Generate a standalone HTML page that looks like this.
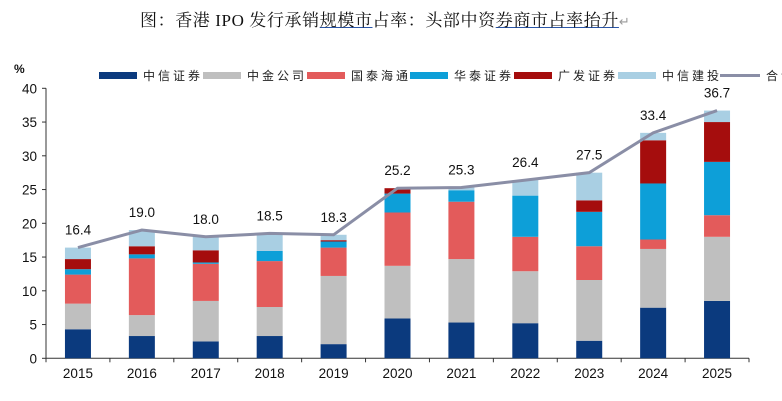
<!DOCTYPE html>
<html><head><meta charset="utf-8"><style>
body{margin:0;background:#fff;width:782px;height:401px;overflow:hidden;position:relative;font-family:"Liberation Sans","Noto Sans CJK SC",sans-serif}
#title{position:absolute;left:140px;top:6px;font-family:"Liberation Serif","Noto Serif CJK SC",serif;font-size:17px;color:#111;white-space:nowrap;letter-spacing:0.6px}
#title u{text-decoration-color:#2a56a8}
</style></head><body>
<div id="title">图：香港 IPO 发行承销<u>规模市</u>占率：头部中资<u>券商市占率抬升</u><span style="color:#999;font-size:13px">↵</span></div>
<svg id="chart" width="782" height="401" style="position:absolute;left:0;top:0"></svg>
<script>
const years=["2015","2016","2017","2018","2019","2020","2021","2022","2023","2024","2025"];
const seriesNames=["中信证券","中金公司","国泰海通","华泰证券","广发证券","中信建投"];
const citic=[4.3,3.3,2.5,3.3,2.1,5.9,5.3,5.2,2.6,7.5,8.5];
const cicc=[3.8,3.1,6.0,4.3,10.1,7.8,9.4,7.7,9.0,8.7,9.5];
const gtht=[4.3,8.4,5.5,6.8,4.2,7.9,8.5,5.1,5.0,1.4,3.2];
const htsc=[0.8,0.6,0.2,1.5,0.9,2.8,1.7,6.1,5.1,8.3,7.9];
const gf=[1.5,1.2,1.8,0,0.2,0.8,0,0,1.7,6.4,5.9];
const csc=[1.7,2.4,2.0,2.6,0.8,0,0.4,2.3,4.1,1.1,1.7];
const total=[16.4,19.0,18.0,18.5,18.3,25.2,25.3,26.4,27.5,33.4,36.7];
const yTicks=[0,5,10,15,20,25,30,35,40];
const colors=["#0b3a7e","#bfbfbf","#e35b5b","#0d9fd8","#a50d0d","#a9cfe3"];
const NS="http://www.w3.org/2000/svg";
const svg=document.getElementById('chart');
const x0=46,x1=749,yBase=358.3,yTop=88.3;
const yS=v=>yBase-(v/40)*(yBase-yTop);
const band=(x1-x0)/years.length;
const xC=i=>x0+band*(i+0.5);
function mk(t,a){const e=document.createElementNS(NS,t);for(const k in a)e.setAttribute(k,a[k]);svg.appendChild(e);return e;}
// axes
let ax=mk('line',{x1:x0,y1:yTop,x2:x0,y2:yBase,stroke:'#333','stroke-width':1});


let bx=mk('line',{x1:x0,y1:yBase,x2:x1,y2:yBase,stroke:'#333','stroke-width':1});


yTicks.forEach(v=>{
 const y=yS(v);
 mk('line',{x1:x0-4,y1:y,x2:x0,y2:y,stroke:'#333'});
 const t=mk('text',{x:37,y:y+5,'text-anchor':'end','font-size':13.5,fill:'#111'});t.textContent=v;
 
 
});
const u=mk('text',{x:14,y:73,'font-size':12,fill:'#111','font-weight':'bold'});u.textContent='%';


for(let i=0;i<=years.length;i++){mk('line',{x1:x0+band*i,y1:yBase,x2:x0+band*i,y2:yBase+4,stroke:'#333'});}
const data=[citic,cicc,gtht,htsc,gf,csc];
years.forEach((yr,i)=>{
 let acc=0;
 data.forEach((s,k)=>{
  const v=s[i]; if(v<=0)return;
  const r=mk('rect',{x:xC(i)-13,y:yS(acc+v),width:26,height:yS(acc)-yS(acc+v),fill:colors[k]});
  
  
  acc+=v;
 });
 const t=mk('text',{x:xC(i),y:378,'text-anchor':'middle','font-size':13.5,fill:'#111'});t.textContent=yr;
 
 
});
let pts=total.map((v,i)=>xC(i)+','+yS(v)).join(' ');
const pl=mk('polyline',{points:pts,fill:'none',stroke:'#8a8ea6','stroke-width':3});


total.forEach((v,i)=>{
 const t=mk('text',{x:xC(i),y:yS(v)-13,'text-anchor':'middle','font-size':13.5,fill:'#111'});t.textContent=v.toFixed(1);
 
 
});
// legend
const lx=[99,203,307,410,514,618];
seriesNames.forEach((n,k)=>{
 const r=mk('rect',{x:lx[k],y:72,width:38,height:7,fill:colors[k]});
 
 
 const t=mk('text',{x:lx[k]+44,y:80,'font-size':12,fill:'#222','letter-spacing':3});t.textContent=n;
 
 
});
const ll=mk('line',{x1:720,y1:75.5,x2:760,y2:75.5,stroke:'#8a8ea6','stroke-width':3});


const lt=mk('text',{x:766,y:80,'font-size':12,fill:'#222','letter-spacing':3});lt.textContent='合计';


</script>
</body></html>
